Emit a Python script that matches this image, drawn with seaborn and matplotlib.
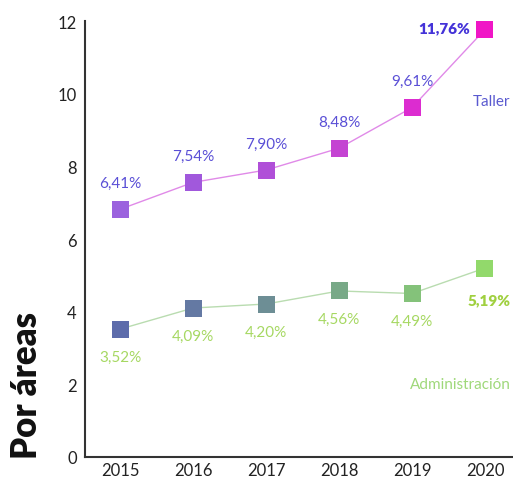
import matplotlib
matplotlib.use("Agg")
import matplotlib.pyplot as plt
import seaborn as sns
import pandas as pd

years = ["2015", "2016", "2017", "2018", "2019", "2020"]
# positions as drawn in the reference picture
taller = [6.82, 7.56, 7.90, 8.50, 9.62, 11.77]
admin = [3.52, 4.10, 4.21, 4.57, 4.50, 5.20]
taller_labels = ["6,41%", "7,54%", "7,90%", "8,48%", "9,61%", "11,76%"]
admin_labels = ["3,52%", "4,09%", "4,20%", "4,56%", "4,49%", "5,19%"]
taller_colors = ["#9b62de", "#a158dc", "#b04fd8", "#c443d2", "#dc2cd0", "#f016c6"]
admin_colors = ["#5d6cab", "#6479a3", "#6d8e95", "#78a987", "#84c27a", "#92d96b"]
yticks = [0, 2, 4, 6, 8, 10, 12]

sns.set_style("white")
plt.rcParams['font.family'] = ['Lato', 'DejaVu Sans']

fig = plt.figure(figsize=(5.13, 4.81), dpi=100)
ax = fig.add_axes([0.166, 0.048, 0.832, 0.906])

x = list(range(len(years)))
df_t = pd.DataFrame({"x": x, "y": taller, "c": years})
df_a = pd.DataFrame({"x": x, "y": admin, "c": years})

sns.lineplot(data=df_t, x="x", y="y", color="#e08ae8", linewidth=1.0, ax=ax, zorder=2)
sns.lineplot(data=df_a, x="x", y="y", color="#b9dcb0", linewidth=1.0, ax=ax, zorder=2)
sns.scatterplot(data=df_t, x="x", y="y", hue="c", palette=dict(zip(years, taller_colors)),
                marker="s", s=150, linewidth=0, legend=False, ax=ax, zorder=3)
sns.scatterplot(data=df_a, x="x", y="y", hue="c", palette=dict(zip(years, admin_colors)),
                marker="s", s=150, linewidth=0, legend=False, ax=ax, zorder=3)

tcol = "#5a4fd6"
acol = "#a6d862"
for i, (v, lab) in enumerate(zip(taller, taller_labels)):
    if i == len(years) - 1:
        ax.annotate(lab, (i, v), xytext=(-11, 1), textcoords="offset points",
                    ha="right", va="center", fontsize=11, fontweight="heavy", color="#4433d8")
    else:
        ax.annotate(lab, (i, v), xytext=(0, 19), textcoords="offset points",
                    ha="center", va="center", fontsize=11, color=tcol)
for i, (v, lab) in enumerate(zip(admin, admin_labels)):
    if i == len(years) - 1:
        ax.annotate(lab, (i, v), xytext=(3, -23), textcoords="offset points",
                    ha="center", va="center", fontsize=11, fontweight="heavy", color="#a0d040")
    else:
        ax.annotate(lab, (i, v), xytext=(0, -20), textcoords="offset points",
                    ha="center", va="center", fontsize=11, color=acol)

ax.text(5.35, 9.8, "Taller", ha="right", va="center", fontsize=11, color="#5a5ad0")
ax.text(5.35, 2.02, "Administración", ha="right", va="center", fontsize=11, color="#9fd87a")

ax.set_xlim(-0.48, 5.37)
ax.set_ylim(0, 12)
ax.set_xticks(x)
ax.set_xticklabels(years)
ax.set_xticks([0.5, 1.5, 2.5, 3.5, 4.5], minor=True)
ax.set_yticks(yticks)
ax.set_yticklabels([str(t) for t in yticks])
ax.tick_params(axis="x", which="major", length=0, labelsize=12, labelcolor="#222222", pad=4)
ax.tick_params(axis="x", which="minor", direction="in", length=8, width=1.5, color="#333333")
ax.tick_params(axis="y", direction="in", length=8, width=1.5, color="#333333",
               labelsize=12, labelcolor="#222222", pad=6)
ax.set_xlabel("")
ax.set_ylabel("")
for s in ["top", "right"]:
    ax.spines[s].set_visible(False)
for s in ["left", "bottom"]:
    ax.spines[s].set_color("#333333")
    ax.spines[s].set_linewidth(1.5)

fig.text(0.052, 0.045, "Por áreas", rotation=90, ha="center", va="bottom",
         fontsize=25, fontweight="heavy", color="#111111")

fig.savefig("out.png", dpi=100)
